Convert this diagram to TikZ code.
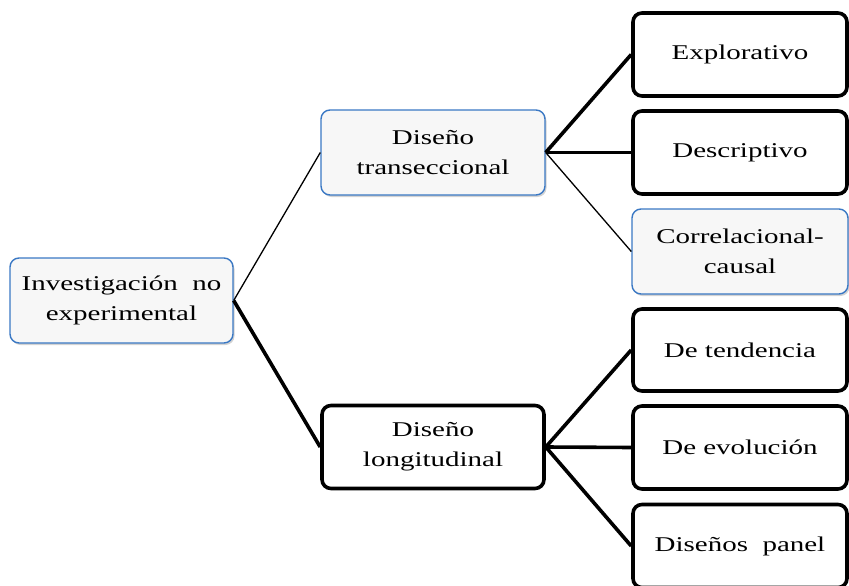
\documentclass[tikz,border=0pt]{standalone}
\usepackage{fontspec}
\setmainfont[FakeStretch=1.38]{Liberation Serif}
\usetikzlibrary{shadows}
\definecolor{bluebd}{HTML}{3A78C4}
\definecolor{boxfill}{HTML}{F7F7F7}
\tikzset{
  basebox/.style={rounded corners=9pt, align=center, inner sep=2pt,
    font=\fontsize{21}{30}\selectfont},
  bluebox/.style={basebox, draw=bluebd, line width=1.4pt, fill=boxfill,
    drop shadow={shadow xshift=1.5pt, shadow yshift=-2pt, opacity=0.35}},
  blackbox/.style={basebox, draw=black, line width=3.6pt, fill=white},
  thinline/.style={line width=1.3pt},
  thickline/.style={line width=3.6pt},
}
\begin{document}
\begin{tikzpicture}[x=1pt,y=-1pt]
\useasboundingbox (0,0) rectangle (849,586);
% root
\node[bluebox, minimum width=223pt, minimum height=85pt] (root) at (121.5,300.5) {Investigación\ \ no\\experimental};
% middle
\node[bluebox, minimum width=224pt, minimum height=85pt] (trans) at (433,152.5) {Diseño\\transeccional};
\node[blackbox, minimum width=222pt, minimum height=83pt] (long) at (433,447) {Diseño\\longitudinal};
% leaves
\node[blackbox, minimum width=214pt, minimum height=83pt] (expl) at (740,54.5) {Explorativo};
\node[blackbox, minimum width=214pt, minimum height=83pt] (desc) at (740,152.5) {Descriptivo};
\node[bluebox, minimum width=216pt, minimum height=85pt] (corr) at (740,251.5) {Correlacional-\\causal};
\node[blackbox, minimum width=214pt, minimum height=82pt] (tend) at (740,350) {De tendencia};
\node[blackbox, minimum width=214pt, minimum height=83pt] (evol) at (740,447.5) {De evolución};
\node[blackbox, minimum width=214pt, minimum height=83pt] (panel) at (740,546) {Diseños\ \ panel};
% connectors
\draw[thinline] (root.east) -- (trans.west);
\draw[thickline] (root.east) -- (long.west);
\draw[thickline] (trans.east) -- (expl.west);
\draw[thickline] (trans.east) -- (desc.west);
\draw[thinline] (trans.east) -- (corr.west);
\draw[thickline] (long.east) -- (tend.west);
\draw[thickline] (long.east) -- (evol.west);
\draw[thickline] (long.east) -- (panel.west);
\end{tikzpicture}
\end{document}
